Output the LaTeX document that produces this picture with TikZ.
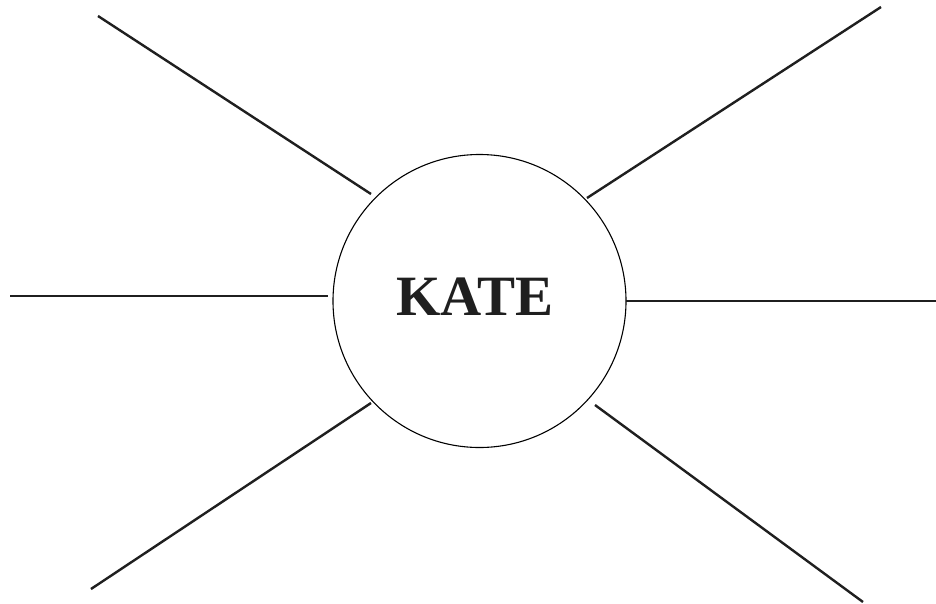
\documentclass[tikz,border=0pt]{standalone}
\usepackage{fontspec}
\setmainfont{Liberation Serif}
\begin{document}
\begin{tikzpicture}[x=1pt,y=-1pt,
  spoke/.style={line width=2.4pt, color=black!88},
  hub/.style={circle, draw, line width=1.1pt, minimum size=293pt, inner sep=0pt},
  label/.style={font=\bfseries\fontsize{57}{60}\selectfont, text=black!88}]
\useasboundingbox (0,0) rectangle (936,603);
\node[hub] (c) at (479.5,301) {};
\node[label] (t) at (475,297) {KATE};
\coordinate (a1) at (98,16);   \coordinate (a2) at (371,194);
\coordinate (b1) at (881,7);   \coordinate (b2) at (587,198);
\coordinate (l1) at (10,296);  \coordinate (l2) at (328,296);
\coordinate (r1) at (626,301); \coordinate (r2) at (936,301);
\coordinate (d1) at (91,589);  \coordinate (d2) at (371,403);
\coordinate (e1) at (863,602); \coordinate (e2) at (595,405);
\draw[spoke] (a1) -- (a2);
\draw[spoke] (b1) -- (b2);
\draw[spoke] (l1) -- (l2);
\draw[spoke] (r1) -- (r2);
\draw[spoke] (d1) -- (d2);
\draw[spoke] (e1) -- (e2);
\end{tikzpicture}
\end{document}
